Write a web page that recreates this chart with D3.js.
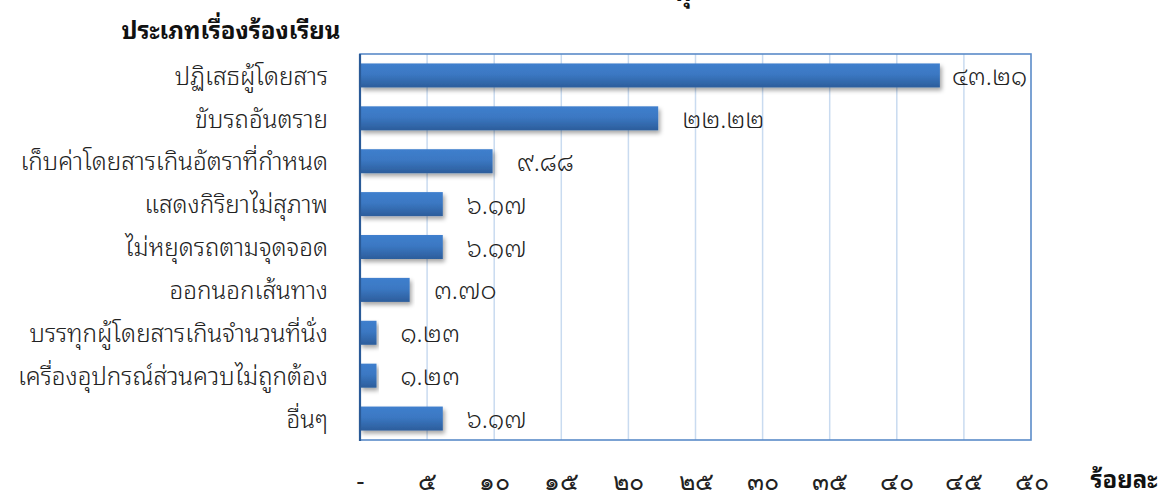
<!DOCTYPE html>
<html><head><meta charset="utf-8">
<script src="https://cdn.jsdelivr.net/npm/d3@7"></script>
<style>body{margin:0;background:#fff;}svg{display:block;font-family:"Noto Sans Thai Looped","Noto Sans",sans-serif;}</style>
</head><body>
<svg id="c" width="1161" height="495"></svg>
<script>
const categories = ["ปฏิเสธผู้โดยสาร","ขับรถอันตราย","เก็บค่าโดยสารเกินอัตราที่กำหนด","แสดงกิริยาไม่สุภาพ","ไม่หยุดรถตามจุดจอด","ออกนอกเส้นทาง","บรรทุกผู้โดยสารเกินจำนวนที่นั่ง","เครื่องอุปกรณ์ส่วนควบไม่ถูกต้อง","อื่นๆ"];
const values = [43.21,22.22,9.88,6.17,6.17,3.70,1.23,1.23,6.17];
const tickValues = [0,5,10,15,20,25,30,35,40,45,50];
const tickLabels = ["-","๕","๑๐","๑๕","๒๐","๒๕","๓๐","๓๕","๔๐","๔๕","๕๐"];
const yTitle = "ประเภทเรื่องร้องเรียน";
const xTitle = "ร้อยละ";

const thai = s => s.replace(/[0-9]/g, d => "๐๑๒๓๔๕๖๗๘๙"[+d]);
const svg = d3.select("#c");
const L = 360, R = 1031, T = 54, B = 440;
const x = d3.scaleLinear().domain([0,50]).range([L,R]);
const y = d3.scaleBand().domain(categories).range([T,B]).paddingInner(0.44).paddingOuter(0.22);

const defs = svg.append("defs");
const g = defs.append("linearGradient").attr("id","bg").attr("x1",0).attr("y1",0).attr("x2",0).attr("y2",1);
g.append("stop").attr("offset","0%").attr("stop-color","#3f7fcd");
g.append("stop").attr("offset","45%").attr("stop-color","#3b78c3");
g.append("stop").attr("offset","100%").attr("stop-color","#2c5d9b");
const f = defs.append("filter").attr("id","sh").attr("x","-5%").attr("y","-30%").attr("width","115%").attr("height","180%");
f.append("feDropShadow").attr("dx",2).attr("dy",3).attr("stdDeviation",2).attr("flood-color","#000").attr("flood-opacity",0.35);

svg.append("g").selectAll("line").data(tickValues.slice(1,-1)).join("line")
  .attr("x1",d=>x(d)).attr("x2",d=>x(d)).attr("y1",T).attr("y2",B)
  .attr("stroke","#c9dbf0").attr("stroke-width",1.5);
svg.append("rect").attr("x",L).attr("y",T).attr("width",R-L).attr("height",B-T)
  .attr("fill","none").attr("stroke","#5b8bc9").attr("stroke-width",1.6);

svg.append("g").selectAll("rect").data(values).join("rect")
  .attr("x",x(0)).attr("y",(d,i)=>y(categories[i]))
  .attr("width",d=>x(d)-x(0)).attr("height",y.bandwidth())
  .attr("fill","url(#bg)").attr("filter","url(#sh)");

svg.append("line").attr("x1",L).attr("x2",L).attr("y1",T).attr("y2",B+1).attr("stroke","#2a5a97").attr("stroke-width",2.2);

const vl = svg.append("g").selectAll("text").data(values).join("text")
  .attr("y",(d,i)=>y(categories[i])+y.bandwidth()/2)
  .attr("dy","0.38em").attr("font-size",25).attr("font-weight",350).attr("fill","#222")
  .text(d=>thai(d.toFixed(2)));
vl.each(function(d){
  const w = this.getComputedTextLength();
  d3.select(this).attr("x", Math.min(x(d)+24, R-4-w));
});

svg.append("g").selectAll("text").data(categories).join("text")
  .attr("x",328).attr("y",d=>y(d)+y.bandwidth()/2).attr("dy","0.38em")
  .attr("text-anchor","end").attr("font-size",24.3).attr("font-weight",350).attr("fill","#222").text(d=>d);

const xa = svg.append("g").attr("transform",`translate(0,479)`)
  .call(d3.axisBottom(x).tickValues(tickValues).tickSize(0).tickPadding(0).tickFormat((d,i)=>tickLabels[i]));
xa.select(".domain").remove();
xa.selectAll("text").attr("font-size",25).attr("font-weight",350).attr("fill","#222").attr("font-family","inherit").attr("dy","0.45em");

svg.append("text").attr("x",231).attr("y",39).attr("text-anchor","middle").attr("font-size",24).attr("font-weight","bold").attr("fill","#111").text(yTitle);
svg.append("text").attr("x",1124).attr("y",488).attr("text-anchor","middle").attr("font-size",24).attr("font-weight","bold").attr("fill","#111").text(xTitle);
svg.append("text").attr("x",683).attr("y",1).attr("text-anchor","middle").attr("font-size",25).attr("font-weight","bold").attr("fill","#111").text("ทุ");
</script>
</body></html>
